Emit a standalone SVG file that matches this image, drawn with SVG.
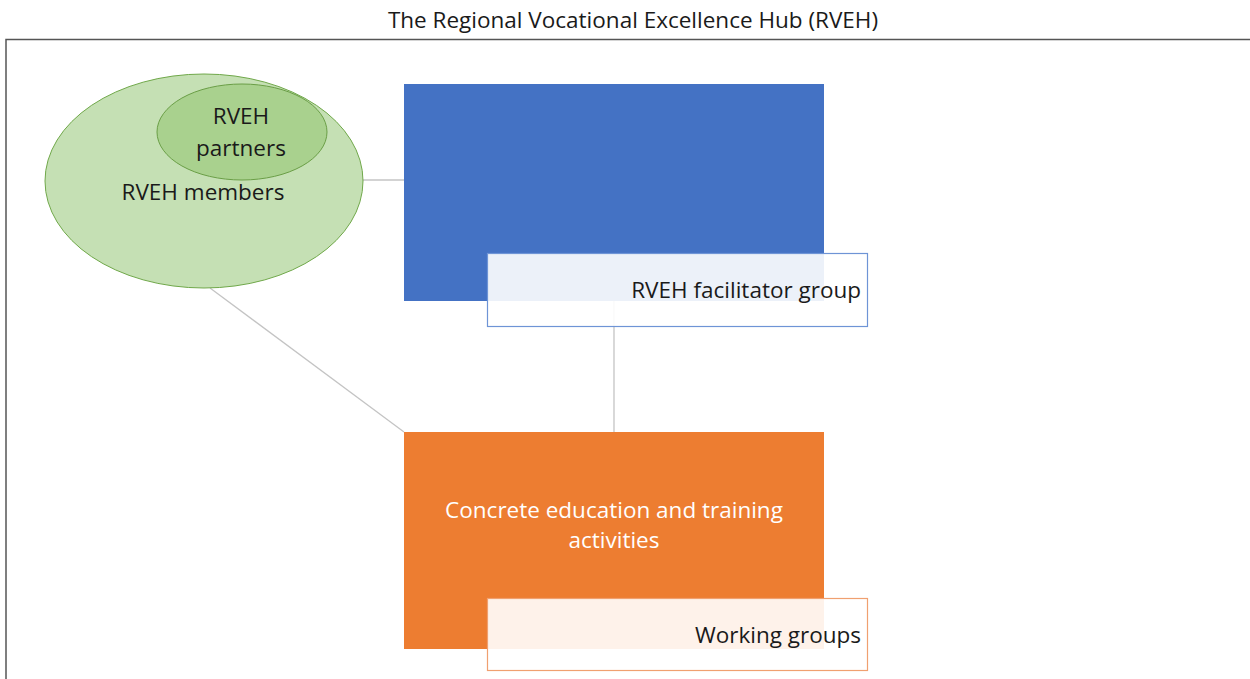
<svg xmlns="http://www.w3.org/2000/svg" width="1250" height="679" viewBox="0 0 1250 679">
<style>
text{font-family:"Open Sans","Liberation Sans",sans-serif;fill:#1a1a1a}
.conn{stroke:#c4c4c4;stroke-width:1.3;fill:none}
.lbl{font-size:22.5px}
</style>
<rect width="1250" height="679" fill="#ffffff"/>
<g id="frame">
<text x="633" y="28" text-anchor="middle" font-size="22.5">The Regional Vocational Excellence Hub (RVEH)</text>
<polyline points="6,679 6,39.5 1250,39.5" fill="none" stroke="#555" stroke-width="1.5"/>
</g>
<g id="connectors">
<line class="conn" x1="362" y1="180" x2="404" y2="180"/>
<line class="conn" x1="210" y1="288" x2="404" y2="432"/>
<line class="conn" x1="614" y1="301" x2="614" y2="432"/>
</g>
<g id="members">
<ellipse cx="204" cy="181" rx="159" ry="107" fill="#c5e0b4" stroke="#70a84a" stroke-width="1"/>
<text class="lbl" x="203" y="200" text-anchor="middle">RVEH members</text>
</g>
<g id="partners">
<ellipse cx="242" cy="132" rx="85" ry="48" fill="#a9d18e" stroke="#6a9e46" stroke-width="1"/>
<text class="lbl" x="241" y="124" text-anchor="middle">RVEH</text>
<text class="lbl" x="241" y="156" text-anchor="middle">partners</text>
</g>
<g id="facilitator">
<rect x="404" y="84" width="420" height="217" fill="#4472c4"/>
<rect x="487.5" y="253.5" width="380" height="73" fill="#ffffff" fill-opacity="0.9" stroke="#6e94d6" stroke-width="1.2"/>
<text class="lbl" x="861" y="298" text-anchor="end">RVEH facilitator group</text>
</g>
<g id="activities">
<rect x="404" y="432" width="420" height="217" fill="#ed7d31"/>
<text class="lbl" x="614" y="518" text-anchor="middle" style="fill:#ffffff">Concrete education and training</text>
<text class="lbl" x="614" y="548" text-anchor="middle" style="fill:#ffffff">activities</text>
<rect x="487.5" y="598.5" width="380" height="72" fill="#ffffff" fill-opacity="0.9" stroke="#f0a070" stroke-width="1.2"/>
<text class="lbl" x="861" y="643" text-anchor="end">Working groups</text>
</g>
</svg>
